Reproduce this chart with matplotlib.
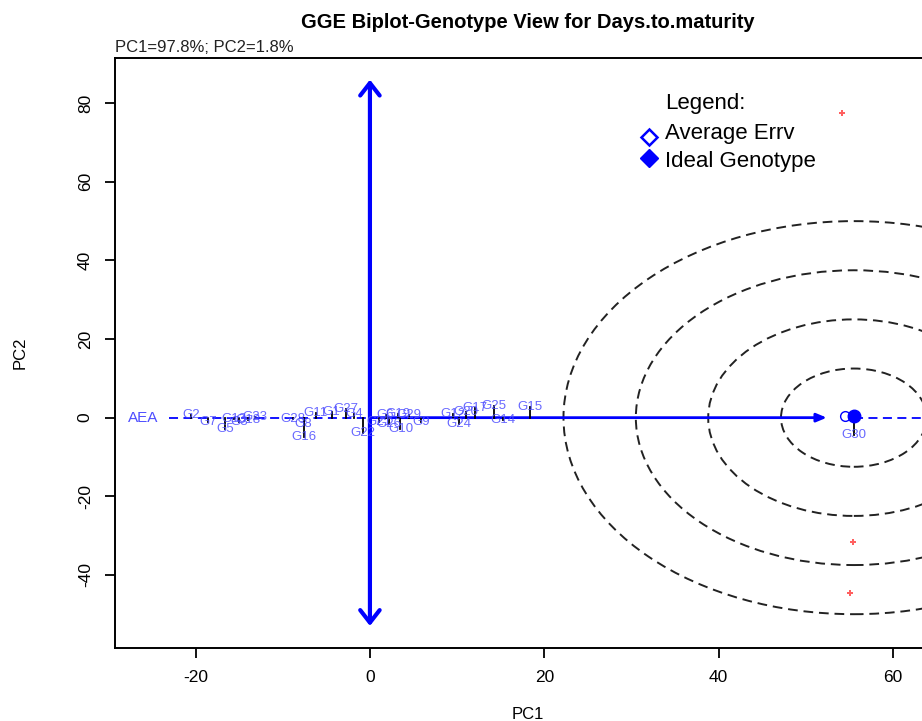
import matplotlib
matplotlib.use("Agg")
import matplotlib.pyplot as plt
from matplotlib.patches import Ellipse
from matplotlib import font_manager

# ---------------- data ----------------
genotypes = ["G1", "G2", "G3", "G4", "G5", "G6", "G7", "G8", "G9", "G10",
             "G11", "G12", "G13", "G14", "G15", "G16", "G17", "G18", "G19", "G20",
             "G21", "G22", "G23", "G24", "G25", "G26", "G27", "G28", "G29", "G30"]
pc1 = [-4.4, -20.5, -15.0, -1.8, -16.6, 1.8, -18.6, -7.6, 5.9, 3.5,
       -6.2, 9.5, -15.6, 15.3, 18.4, -7.6, 12.0, -14.0, 3.2, 11.0,
       1.0, -0.8, -13.2, 10.2, 14.2, 2.2, -2.8, -8.8, 4.5, 55.5]
pc2 = [1.5, 0.8, -1.2, 1.0, -2.8, 0.8, -1.2, -1.6, -1.0, -3.0,
       1.3, 1.0, -0.3, -0.6, 2.6, -4.8, 2.4, -0.5, 0.9, 1.5,
       -1.2, -3.8, 0.2, -1.6, 3.0, -1.5, 2.3, -0.3, 0.6, -4.5]

env_pc1 = [54.1, 55.4, 55.1]
env_pc2 = [77.6, -31.6, -44.5]

ideal_pc1, ideal_pc2 = 55.5, 0.5
aea_end = 52.4
aec_top, aec_bottom = 86.0, -53.0
circle_rx = [8.35, 16.7, 25.0, 33.3]
circle_ry = [12.5, 25.0, 37.5, 50.0]

title = "GGE Biplot-Genotype View for Days.to.maturity"
subtitle = "PC1=97.8%; PC2=1.8%"
xticks = [-20, 0, 20, 40, 60]
yticks = [-40, -20, 0, 20, 40, 60, 80]

# ---------------- style ----------------
names = {f.name for f in font_manager.fontManager.ttflist}
base_font = "Liberation Sans" if "Liberation Sans" in names else "DejaVu Sans"
narrow_font = "Liberation Sans Narrow" if "Liberation Sans Narrow" in names else base_font
plt.rcParams["font.family"] = [base_font, "DejaVu Sans"]
plt.rcParams["axes.unicode_minus"] = False

W, H = 922, 721
fig = plt.figure(figsize=(W / 100, H / 100), dpi=100)
ax = fig.add_axes([115 / W, 1 - 648 / H, (941 - 115) / W, (648 - 58) / H])
ax.set_xlim(-29.24, 65.5)
ax.set_ylim(-58.6, 91.5)

for s in ax.spines.values():
    s.set_linewidth(1.4)
    s.set_color("black")

ax.set_xticks(xticks)
ax.set_yticks(yticks)
ax.tick_params(direction="out", length=7, width=1.3, labelsize=12.5, pad=9)
for lab in ax.get_yticklabels():
    lab.set_rotation(90)
    lab.set_va("center")

ax.set_xlabel("PC1", fontsize=12, labelpad=16)
ax.set_ylabel("PC2", fontsize=12, labelpad=36)

fig.text(528 / W, 1 - 22 / H, title, ha="center", va="center",
         fontsize=14.5, fontweight="bold")
fig.text(115 / W, 1 - 55 / H, subtitle, ha="left", va="bottom", fontsize=12,
         color="#222222")

blue = "#0000ff"
lab_blue = "#4d4dff"

# concentric circles around ideal genotype
for rx, ry in zip(circle_rx, circle_ry):
    ax.add_patch(Ellipse((ideal_pc1, 0), 2 * rx, 2 * ry, fill=False,
                         ec="#222222", lw=1.4, ls=(0, (5, 3)), zorder=1))

# AEC ordinate (double-headed vertical)
ax.annotate("", xy=(0, aec_top), xytext=(0, aec_bottom),
            arrowprops=dict(arrowstyle="<->,head_length=0.9,head_width=0.7",
                            color=blue, lw=3, shrinkA=0, shrinkB=0), zorder=3)

# AEA abscissa
ax.annotate("", xy=(aea_end, 0), xytext=(0, 0),
            arrowprops=dict(arrowstyle="-|>,head_length=0.6,head_width=0.25",
                            color=blue, lw=2, shrinkA=0, shrinkB=0), zorder=3)
ax.plot([-23, 0], [0, 0], color=blue, lw=1.3, ls=(0, (5, 3)), zorder=2)
ax.plot([ideal_pc1, 66], [0, 0], color=blue, lw=1.3, ls=(0, (5, 3)), zorder=2)
ax.text(-26.0, 0, "AEA", color=lab_blue, fontsize=11, ha="center", va="center", zorder=4)

# projection lines and genotype labels
for g, x, y in zip(genotypes, pc1, pc2):
    ax.plot([x, x], [0, y], color="black", lw=1.3, zorder=4)
for g, x, y in zip(genotypes, pc1, pc2):
    ax.text(x, y, g, color=lab_blue, fontsize=9.5, ha="center", va="center",
            alpha=0.85, zorder=5)

# ideal genotype marker
ax.plot([ideal_pc1], [ideal_pc2], marker="o", ms=9, color=blue, zorder=6)
ax.plot([ideal_pc1 - 1], [ideal_pc2], marker="o", ms=7, mfc="none", mec=blue, zorder=6)

# environment points
ax.scatter(env_pc1, env_pc2, marker="P", s=20, color="#ff6060", zorder=5, linewidths=0)

# legend text block
fig.text(665 / W, 1 - 103 / H, "Legend:", fontsize=16, family=[narrow_font, "DejaVu Sans"],
         ha="left", va="center")
fig.text(665 / W, 1 - 133 / H, "Average Errv", fontsize=16, family=[narrow_font, "DejaVu Sans"],
         ha="left", va="center")
fig.text(665 / W, 1 - 162 / H, "Ideal Genotype", fontsize=16, family=[narrow_font, "DejaVu Sans"],
         ha="left", va="center")
fig.add_artist(plt.Line2D([649 / W], [1 - 137 / H], marker="D", ms=8, mfc="none",
                          mec=blue, mew=1.8, transform=fig.transFigure))
fig.add_artist(plt.Line2D([649 / W], [1 - 158 / H], marker="D", ms=9, color=blue,
                          transform=fig.transFigure))

fig.savefig("out.png", dpi=100)
